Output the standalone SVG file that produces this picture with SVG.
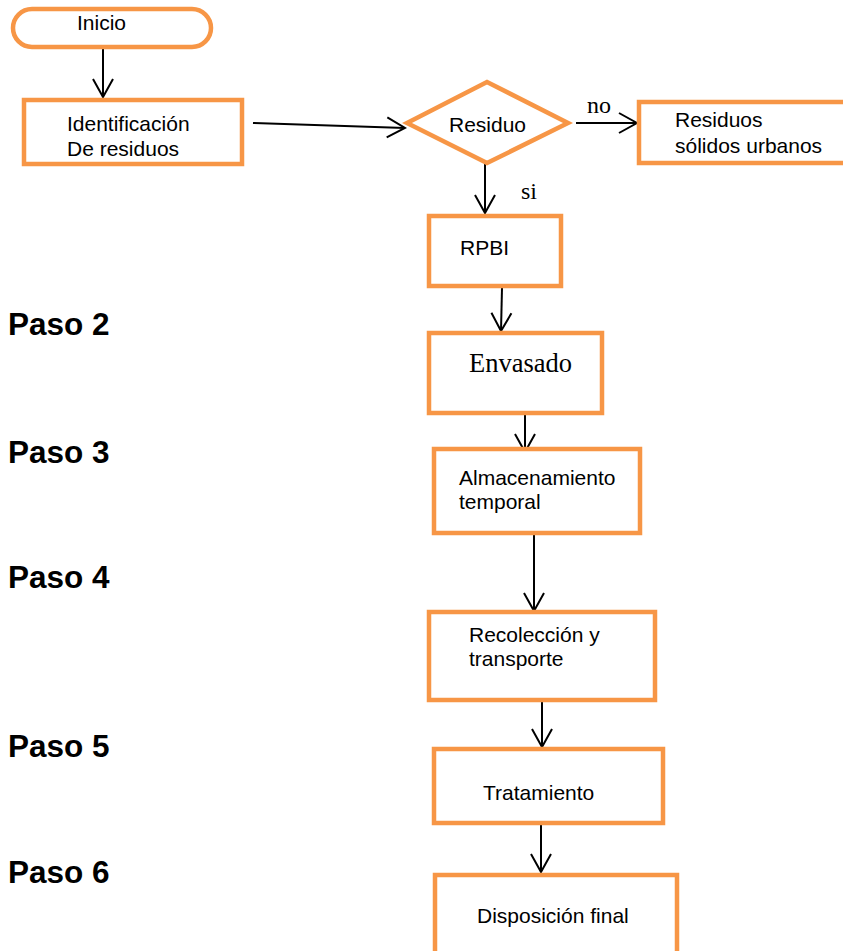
<svg xmlns="http://www.w3.org/2000/svg" width="843" height="951" viewBox="0 0 843 951">
<style>
.box{fill:#fff;stroke:#F79646;stroke-width:4.5}
.t{font-family:"Liberation Sans",Arial,sans-serif;font-size:21px;fill:#000}
.s{font-family:"Liberation Serif","Times New Roman",serif;fill:#000}
.p{font-family:"Liberation Sans",Arial,sans-serif;font-size:31.5px;font-weight:bold;fill:#000}
.c{fill:none;stroke:#000;stroke-width:2}
</style>
<defs>
<marker id="ah" markerUnits="userSpaceOnUse" viewBox="-20 -12 22 24" markerWidth="22" markerHeight="24" refX="0" refY="0" orient="auto">
<path d="M-18,-10 L0,0 L-18,10" fill="none" stroke="#000" stroke-width="2"/>
</marker>
</defs>
<rect width="843" height="951" fill="#fff"/>
<g id="labels">
<text class="p" x="8" y="335">Paso 2</text>
<text class="p" x="8" y="463">Paso 3</text>
<text class="p" x="8" y="588">Paso 4</text>
<text class="p" x="8" y="757">Paso 5</text>
<text class="p" x="8" y="883">Paso 6</text>
</g>
<g id="connectors">
<line class="c" x1="103" y1="49" x2="103" y2="97" marker-end="url(#ah)"/>
<line class="c" x1="253" y1="123" x2="405" y2="128" marker-end="url(#ah)"/>
<line class="c" x1="576" y1="123" x2="637" y2="123" marker-end="url(#ah)"/>
<text class="s" x="587" y="113" font-size="24">no</text>
<line class="c" x1="485" y1="164" x2="485" y2="213" marker-end="url(#ah)"/>
<text class="s" x="521" y="199" font-size="24">si</text>
<line class="c" x1="502" y1="288" x2="501" y2="331" marker-end="url(#ah)"/>
<line class="c" x1="525" y1="415" x2="525" y2="452" marker-end="url(#ah)"/>
<line class="c" x1="534" y1="535" x2="534" y2="611" marker-end="url(#ah)"/>
<line class="c" x1="542" y1="702" x2="542" y2="747" marker-end="url(#ah)"/>
<line class="c" x1="541" y1="825" x2="541" y2="872" marker-end="url(#ah)"/>
</g>
<g id="inicio">
<rect class="box" x="13" y="9" width="198" height="38" rx="19" ry="19"/>
<text class="t" x="77" y="30">Inicio</text>
</g>
<g id="identificacion">
<rect class="box" x="24" y="100" width="218" height="64"/>
<text class="t" x="67" y="131">Identificación</text>
<text class="t" x="67" y="156">De residuos</text>
</g>
<g id="residuo">
<polygon class="box" points="407,123 487,82 568,123 487,163"/>
<text class="t" x="449" y="132">Residuo</text>
</g>
<g id="rsu">
<rect class="box" x="639" y="102" width="220" height="61"/>
<text class="t" x="675" y="127">Residuos</text>
<text class="t" x="675" y="153">sólidos urbanos</text>
</g>
<g id="rpbi">
<rect class="box" x="429" y="216" width="132" height="70"/>
<text class="t" x="460" y="255">RPBI</text>
</g>
<g id="envasado">
<rect class="box" x="429" y="333" width="173" height="80"/>
<text class="s" x="469" y="372" font-size="26.5">Envasado</text>
</g>
<g id="almacenamiento">
<rect class="box" x="434" y="449" width="206" height="84"/>
<text class="t" x="459" y="485">Almacenamiento</text>
<text class="t" x="459" y="509">temporal</text>
</g>
<g id="recoleccion">
<rect class="box" x="429" y="612" width="226" height="88"/>
<text class="t" x="469" y="642">Recolección y</text>
<text class="t" x="469" y="666">transporte</text>
</g>
<g id="tratamiento">
<rect class="box" x="434" y="749" width="229" height="74"/>
<text class="t" x="483" y="800">Tratamiento</text>
</g>
<g id="disposicion">
<rect class="box" x="435" y="875" width="242" height="100"/>
<text class="t" x="477" y="923">Disposición final</text>
</g>
</svg>
